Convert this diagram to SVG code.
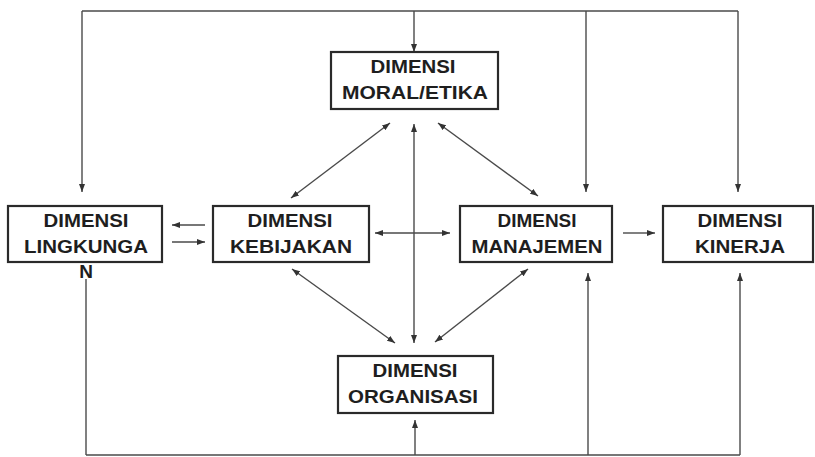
<svg xmlns="http://www.w3.org/2000/svg" width="815" height="457" viewBox="0 0 815 457">
<defs>
<marker id="ah" viewBox="0 0 8 6" refX="8" refY="3" markerWidth="8" markerHeight="6" markerUnits="userSpaceOnUse" orient="auto-start-reverse">
<path d="M0,0 L8,3 L0,6 Z" fill="#333"/>
</marker>
</defs>
<style>
.box{fill:#fff;stroke:#2a2a2a;stroke-width:2.2}
.t{font-family:"Liberation Sans",Arial,sans-serif;font-weight:bold;font-size:19px;fill:#1e1e1e;text-anchor:middle}
.c{fill:none;stroke:#4a4a4a;stroke-width:1.4}
.a{marker-end:url(#ah)}
.b{marker-start:url(#ah);marker-end:url(#ah)}
</style>
<rect width="815" height="457" fill="#fff"/>
<g id="connectors">
<path class="c" d="M82,11 H738"/>
<path class="c a" d="M82,11 V192"/>
<path class="c a" d="M414,11 V52"/>
<path class="c a" d="M586,11 V192"/>
<path class="c a" d="M738,11 V192"/>
<path class="c" d="M86,455 H740"/>
<path class="c" d="M86,455 V279"/>
<path class="c a" d="M415,455 V420"/>
<path class="c a" d="M588,455 V273"/>
<path class="c a" d="M740,455 V273"/>
<path class="c a" d="M205,225 H172"/>
<path class="c a" d="M172,242 H205"/>
<path class="c b" d="M375,233 H450"/>
<path class="c a" d="M623,233 H655"/>
<path class="c b" d="M390,123 L291,198"/>
<path class="c b" d="M438,123 L538,196"/>
<path class="c b" d="M414,124 V343"/>
<path class="c b" d="M292,269 L395,343"/>
<path class="c b" d="M528,269 L435,342"/>
</g>
<g id="moral">
<rect class="box" x="331" y="52" width="167" height="57"/>
<text class="t" x="413" y="73" textLength="85" lengthAdjust="spacingAndGlyphs">DIMENSI</text>
<text class="t" x="415" y="99" textLength="146" lengthAdjust="spacingAndGlyphs">MORAL/ETIKA</text>
</g>
<g id="lingkungan">
<rect class="box" x="8" y="206" width="154" height="56"/>
<text class="t" x="86" y="227" textLength="85" lengthAdjust="spacingAndGlyphs">DIMENSI</text>
<text class="t" x="86" y="253" textLength="124" lengthAdjust="spacingAndGlyphs">LINGKUNGA</text>
<text class="t" x="86" y="278">N</text>
</g>
<g id="kebijakan">
<rect class="box" x="213" y="206" width="156" height="56"/>
<text class="t" x="290" y="227" textLength="85" lengthAdjust="spacingAndGlyphs">DIMENSI</text>
<text class="t" x="291" y="253" textLength="122" lengthAdjust="spacingAndGlyphs">KEBIJAKAN</text>
</g>
<g id="manajemen">
<rect class="box" x="460" y="206" width="152" height="56"/>
<text class="t" x="537" y="227" textLength="79" lengthAdjust="spacingAndGlyphs">DIMENSI</text>
<text class="t" x="537" y="253" textLength="131" lengthAdjust="spacingAndGlyphs">MANAJEMEN</text>
</g>
<g id="kinerja">
<rect class="box" x="663" y="206" width="150" height="56"/>
<text class="t" x="740" y="227" textLength="85" lengthAdjust="spacingAndGlyphs">DIMENSI</text>
<text class="t" x="740" y="253" textLength="90" lengthAdjust="spacingAndGlyphs">KINERJA</text>
</g>
<g id="organisasi">
<rect class="box" x="338" y="356" width="155" height="57"/>
<text class="t" x="415" y="377" textLength="85" lengthAdjust="spacingAndGlyphs">DIMENSI</text>
<text class="t" x="413" y="403" textLength="130" lengthAdjust="spacingAndGlyphs">ORGANISASI</text>
</g>
</svg>
